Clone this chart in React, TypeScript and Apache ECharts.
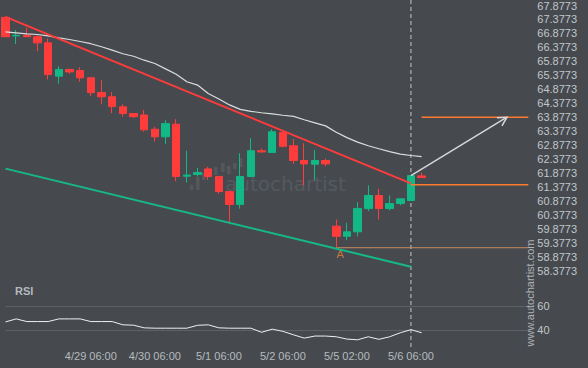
import React, { useEffect, useRef } from 'react';
import * as echarts from 'echarts';

const times = [
  '4/27 22:00', '4/28 02:00', '4/28 06:00', '4/28 10:00', '4/28 14:00', '4/28 18:00', '4/28 22:00',
  '4/29 02:00', '4/29 06:00', '4/29 10:00', '4/29 14:00', '4/29 18:00', '4/29 22:00',
  '4/30 02:00', '4/30 06:00', '4/30 10:00', '4/30 14:00', '4/30 18:00', '4/30 22:00',
  '5/1 02:00', '5/1 06:00', '5/1 10:00', '5/1 14:00', '5/1 18:00', '5/1 22:00',
  '5/2 02:00', '5/2 06:00', '5/2 10:00', '5/2 14:00', '5/2 18:00', '5/2 22:00',
  '5/4 22:00', '5/5 02:00', '5/5 06:00', '5/5 10:00', '5/5 14:00', '5/5 18:00',
  '5/6 02:00', '5/6 06:00', '5/6 10:00', '5/6 14:00', '5/6 18:00', '5/6 22:00',
  '5/7 02:00', '5/7 06:00', '5/7 10:00', '5/7 14:00', '5/7 18:00', '5/7 22:00', '5/8 02:00',
];
const labeledIdx = [8, 14, 20, 26, 32, 38];

const opens = [67.45, 66.79, 66.81, 66.76, 66.54, 65.35, 65.59, 65.55, 65.29, 64.76, 64.61, 64.25, 64.01, 63.96, 63.45, 63.18, 63.63, 61.77, 61.83, 62.03, 61.76, 61.22, 60.76, 61.76, 62.68, 62.62, 63.33, 62.86, 62.33, 62.20, 62.33, 59.98, 59.62, 59.78, 60.61, 61.08, 60.61, 60.79, 60.90, 61.78];
const closes = [66.76, 66.81, 66.76, 66.54, 65.41, 65.59, 65.50, 65.29, 64.76, 64.61, 64.26, 64.01, 63.90, 63.43, 63.18, 63.65, 61.76, 61.81, 61.90, 61.76, 61.22, 60.76, 61.76, 62.68, 62.64, 63.36, 62.84, 62.33, 62.21, 62.33, 62.21, 59.62, 59.78, 60.61, 61.08, 60.61, 60.79, 60.96, 61.79, 61.72];
const lows = [66.74, 66.50, 66.76, 66.24, 65.23, 65.08, 65.43, 65.15, 64.64, 64.34, 64.02, 63.90, 63.85, 63.36, 63.01, 62.92, 61.59, 61.55, 61.76, 61.64, 61.14, 60.13, 60.61, 61.73, 62.60, 62.62, 62.80, 62.21, 61.44, 61.62, 62.13, 59.22, 59.48, 59.62, 60.52, 60.22, 60.55, 60.73, 60.90, 61.72];
const highs = [67.49, 67.00, 67.09, 66.85, 66.69, 65.71, 65.59, 65.67, 65.29, 65.20, 64.78, 64.34, 64.01, 64.14, 63.54, 63.77, 63.81, 62.68, 62.07, 62.11, 61.76, 61.22, 62.59, 63.13, 62.76, 63.45, 63.36, 63.10, 62.95, 62.71, 62.40, 60.22, 60.10, 60.84, 61.44, 61.32, 61.08, 60.96, 61.79, 61.89];

const movingAvg = [66.93, 66.90, 66.86, 66.84, 66.79, 66.72, 66.66, 66.59, 66.51, 66.40, 66.28, 66.15, 66.06, 65.92, 65.80, 65.61, 65.42, 65.15, 65.03, 64.73, 64.53, 64.32, 64.16, 64.09, 64.04, 64.00, 63.95, 63.91, 63.79, 63.68, 63.57, 63.34, 63.15, 62.99, 62.86, 62.75, 62.65, 62.56, 62.51, 62.47];

const rsi = [46.8, 49.3, 47.1, 47.1, 47.1, 49.3, 49.3, 49.3, 47.1, 47.1, 47.1, 44.4, 44.1, 41.9, 41.6, 41.6, 41.6, 41.6, 44.0, 44.4, 41.9, 41.6, 41.6, 41.6, 38.2, 40.8, 39.0, 36.1, 33.4, 35.1, 35.1, 34.5, 32.6, 32.0, 34.5, 32.4, 34.5, 37.8, 40.4, 37.8];

const priceMin = 58.3773;
const priceMax = 67.8773;
const priceStep = 0.5;
const rsiTicks = [40, 60];

const resistance = [[0, 67.47], [38, 61.51]];
const support = [[0, 62.04], [38, 58.53]];
const breakoutLevel = [[38, 61.46], [49, 61.46]];
const targetLevel = [[39, 63.88], [49, 63.88]];
const pointALevel = [[31, 59.21], [49, 59.21]];
const pointA = [31, 59.21];
const arrowFrom = [38, 61.79];
const arrowTo = [47, 63.88];
const signalIdx = 38;

const BG = '#464a4f';
const FONT = '"Liberation Sans", Arial, sans-serif';

export default function App() {
  const ref = useRef<HTMLDivElement>(null);
  useEffect(() => {
    document.body.style.margin = '0';
    const chart = echarts.init(ref.current!, undefined, { renderer: 'svg' });
    const candleData = opens.map((o, i) => [o, closes[i], lows[i], highs[i]]);
    const lineBase = { type: 'line', symbol: 'none', xAxisIndex: 0, yAxisIndex: 0, silent: true };
    chart.setOption({
      animation: false,
      backgroundColor: BG,
      textStyle: { fontFamily: FONT },
      grid: [
        { left: 5.5, right: 59.7, top: 4, bottom: 97 },
        { left: 5.5, right: 59.7, top: 281.8, bottom: 13.7 },
      ],
      xAxis: [
        { type: 'category', gridIndex: 0, data: times, boundaryGap: false, show: false },
        {
          type: 'category', gridIndex: 1, data: times, boundaryGap: false,
          axisLine: { show: false }, axisTick: { show: false }, splitLine: { show: false },
          axisLabel: {
            interval: (i: number) => labeledIdx.includes(i),
            hideOverlap: false,
            margin: -4, color: '#b6babe', fontSize: 11, fontFamily: FONT,
          },
        },
      ],
      yAxis: [
        {
          type: 'value', gridIndex: 0, position: 'right', min: priceMin, max: priceMax, interval: priceStep,
          axisLine: { show: false }, axisTick: { show: false }, splitLine: { show: false },
          axisLabel: {
            margin: 9, color: '#c2c6ca', fontSize: 11, fontFamily: FONT,
            formatter: (v: number) => (priceMin + Math.round((v - priceMin) / priceStep) * priceStep).toFixed(4),
          },
        },
        {
          type: 'value', gridIndex: 1, position: 'right', min: 20, max: 80, interval: 20,
          axisLine: { show: false }, axisTick: { show: false },
          splitLine: { show: true, showMinLine: false, showMaxLine: false, lineStyle: { color: '#5d6166', width: 1 } },
          axisLabel: {
            margin: 9, color: '#c2c6ca', fontSize: 11, fontFamily: FONT,
            formatter: (v: number) => (rsiTicks.includes(Math.round(v)) ? String(Math.round(v)) : ''),
          },
        },
      ],
      series: [
        {
          type: 'candlestick', xAxisIndex: 0, yAxisIndex: 0, data: candleData, barWidth: 8,
          itemStyle: { color: '#12b886', color0: '#ff3c3c', borderColor: '#12b886', borderColor0: '#ff3c3c', borderWidth: 1 },
        },
        { ...lineBase, data: movingAvg, lineStyle: { color: '#dcdcdc', width: 1.2 }, z: 3 },
        { ...lineBase, data: resistance, lineStyle: { color: '#ff3b3b', width: 2 }, z: 4 },
        { ...lineBase, data: support, lineStyle: { color: '#17b888', width: 2 }, z: 4 },
        { ...lineBase, data: breakoutLevel, lineStyle: { color: '#ff7a2f', width: 1.5 }, z: 4 },
        { ...lineBase, data: targetLevel, lineStyle: { color: '#ff7a2f', width: 1.5 }, z: 4 },
        { ...lineBase, data: pointALevel, lineStyle: { color: '#c98a5e', width: 1 }, z: 3 },
        {
          type: 'scatter', xAxisIndex: 0, yAxisIndex: 0, data: [pointA], symbolSize: 0, silent: true,
          label: { show: true, formatter: 'A', position: 'bottom', distance: 1, offset: [4, 0], color: '#e8833d', fontSize: 11, fontFamily: FONT },
        },
        {
          type: 'line', symbol: 'none', xAxisIndex: 1, yAxisIndex: 1, data: rsi, silent: true,
          lineStyle: { color: '#efefef', width: 1 },
        },
      ],
    });

    const a = chart.convertToPixel({ gridIndex: 0 }, arrowFrom) as number[];
    const b = chart.convertToPixel({ gridIndex: 0 }, arrowTo) as number[];
    const sig = chart.convertToPixel({ gridIndex: 0 }, [signalIdx, priceMax]) as number[];
    const dx = a[0] - b[0];
    const dy = a[1] - b[1];
    const len = Math.hypot(dx, dy);
    const ux = dx / len;
    const uy = dy / len;
    const arm = (ang: number) => {
      const c = Math.cos(ang);
      const s = Math.sin(ang);
      return [b[0] + 10 * (ux * c - uy * s), b[1] + 10 * (ux * s + uy * c)];
    };
    const arm1 = arm(0.5);
    const arm2 = arm(-0.5);
    const logoBars = [
      [190, 185, 5], [196, 177, 13], [202, 173, 7], [208, 169, 8], [214, 167, 8],
      [221, 163, 9], [227, 166, 8], [233, 163, 6], [239, 158, 9],
    ];
    chart.setOption({
      graphic: [
        ...logoBars.map(([x, y, h]) => ({
          type: 'rect', z: 1, silent: true,
          shape: { x, y, width: 3.5, height: h },
          style: { fill: '#54585d' },
        })),
        {
          type: 'text', z: 1, silent: true, x: 225, y: 184,
          style: { text: 'autochartist', fill: '#55595e', font: '20px "DejaVu Sans", sans-serif', verticalAlign: 'middle' },
        },
        {
          type: 'line', z: 1, silent: true,
          shape: { x1: sig[0], y1: 0, x2: sig[0], y2: 349 },
          style: { stroke: '#c4c7cb', lineWidth: 1, lineDash: [4, 3] },
        },
        {
          type: 'line', z: 10, silent: true,
          shape: { x1: a[0], y1: a[1], x2: b[0], y2: b[1] },
          style: { stroke: '#d6d6d6', lineWidth: 1.5 },
        },
        {
          type: 'polyline', z: 10, silent: true,
          shape: { points: [arm1, [b[0], b[1]], arm2] },
          style: { stroke: '#d6d6d6', lineWidth: 1.5, fill: null },
        },
        {
          type: 'text', z: 10, silent: true, x: 15, y: 291,
          style: { text: 'RSI', fill: '#b4b8bd', font: `bold 11px ${FONT}`, verticalAlign: 'middle' },
        },
        {
          type: 'text', z: 10, silent: true, x: 530, y: 293, rotation: Math.PI / 2,
          style: { text: 'www.autochartist.com', fill: '#aeb2b6', font: `11px ${FONT}`, align: 'center', verticalAlign: 'middle' },
        },
      ],
    });
    return () => chart.dispose();
  }, []);
  return <div ref={ref} style={{ width: 588, height: 368, background: BG }} />;
}
